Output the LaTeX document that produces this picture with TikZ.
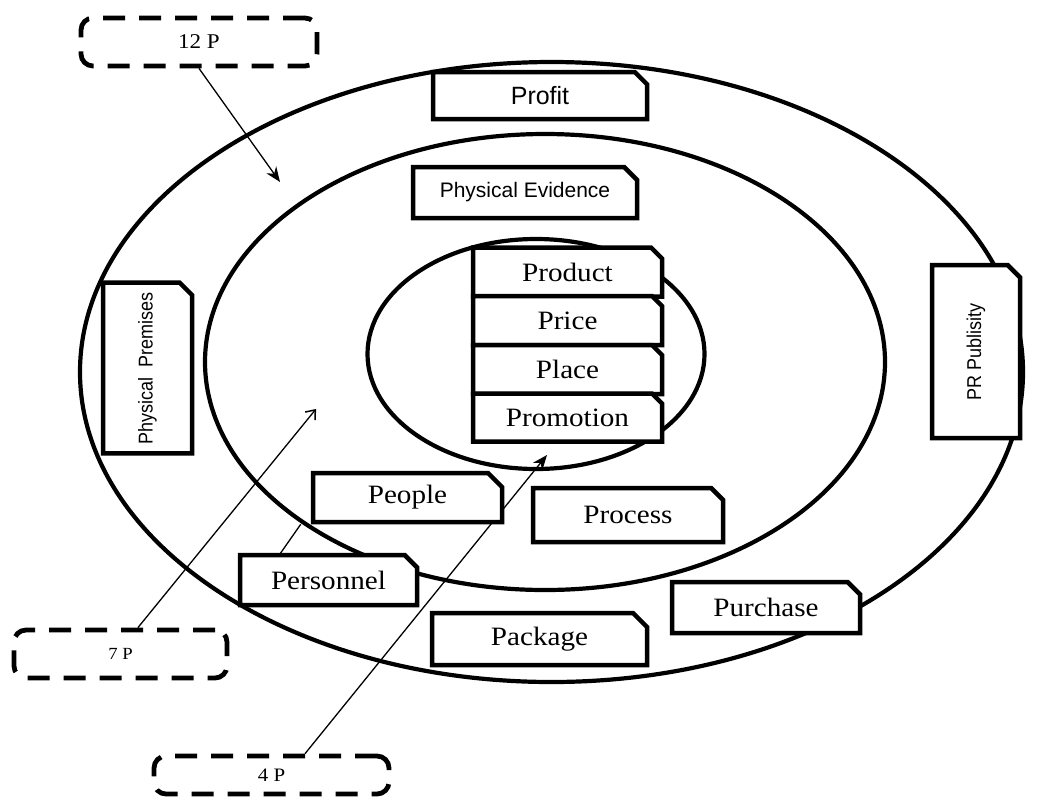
\documentclass[tikz,border=0pt]{standalone}
\usepackage{fontspec}
\setmainfont{Liberation Serif}
\newfontfamily\serifw[FakeStretch=1.1]{Liberation Serif}
\newfontfamily\sansh{Liberation Sans}
\newfontfamily\sansv[FakeStretch=0.9]{Liberation Sans}
\usetikzlibrary{shapes.misc,shapes.geometric,arrows.meta,calc}
\pgfdeclarelayer{ringlayer}
\pgfdeclarelayer{linelayer}
\pgfsetlayers{ringlayer,linelayer,main}
\begin{document}
\begin{tikzpicture}[x=1pt,y=-1pt,
  ring/.style={draw,line width=4.2pt,ellipse,inner sep=0pt,outer sep=0pt},
  cbox/.style={chamfered rectangle,chamfered rectangle corners=north east,
    chamfered rectangle xsep=11pt,draw,line width=4.5pt,fill=white,inner sep=0pt},
  vbox/.style={chamfered rectangle,chamfered rectangle corners=south east,
    chamfered rectangle xsep=11pt,draw,line width=4.5pt,fill=white,inner sep=0pt,rotate=90},
  dbox/.style={draw,line width=4.8pt,rounded corners=12pt,dash pattern=on 22pt off 14pt,inner sep=0pt},
  serbig/.style={font=\serifw\fontsize{26.5}{30}\selectfont},
  sanshz/.style={font=\sansh\fontsize{#1}{#1}\selectfont},
  sansvt/.style={font=\sansv\fontsize{20}{24}\selectfont},
  serlab/.style={font=\serifw\fontsize{#1}{#1}\selectfont},
  thinline/.style={line width=1.3pt},
  fulltip/.style={-{Stealth[length=15pt,width=12pt]}},
  opentip/.style={-{Straight Barb[length=8pt,width=13pt,line width=1.5pt]}}
]
\useasboundingbox (0,0) rectangle (1046,796);

% rings
\begin{pgfonlayer}{ringlayer}
\node[ring,minimum width=943pt,minimum height=620pt] (outer) at (551.5,372) {};
\node[ring,minimum width=680pt,minimum height=456pt] (middle) at (545,362) {};
\node[ring,minimum width=337pt,minimum height=230pt] (inner) at (536,354) {};
\end{pgfonlayer}

% dashed label boxes
\node[dbox,minimum width=236pt,minimum height=48pt,serlab=21] (tp) at (199,42) {12 P};
\node[dbox,minimum width=213pt,minimum height=48pt,serlab=17] (sp) at (120.5,654) {7 P};
\node[dbox,minimum width=235pt,minimum height=38pt,serlab=19] (fp) at (271.5,775) {4 P};

% outer ring boxes
\node[cbox,minimum width=214pt,minimum height=47pt,sanshz=25] (profit) at (540,95.5) {Profit};
\node[vbox,minimum width=170pt,minimum height=89pt,sansvt] (premises) at (147.5,368) {Physical~~Premises};
\node[vbox,minimum width=173pt,minimum height=88pt,sansvt] (pr) at (976,351.5) {PR Publisity};
\node[cbox,minimum width=177pt,minimum height=50pt,serbig] (pers) at (328.5,580) {Personnel};
\node[cbox,minimum width=188pt,minimum height=51pt,serbig] (purch) at (766,607.5) {Purchase};
\node[cbox,minimum width=215pt,minimum height=52pt,serbig] (pack) at (539.5,639) {Package};

% middle ring boxes
\node[cbox,minimum width=224pt,minimum height=51pt,sanshz=21] (evid) at (525,192.5) {Physical Evidence};
\node[cbox,minimum width=189pt,minimum height=49pt,serbig] (peop) at (407.5,497.5) {People};
\node[cbox,minimum width=190pt,minimum height=54pt,serbig] (proc) at (628,515) {Process};

% inner stack
\node[cbox,chamfered rectangle xsep=8pt,minimum width=189pt,minimum height=49pt,serbig] (prod) at (567.5,272) {Product};
\node[cbox,chamfered rectangle xsep=7pt,minimum width=189pt,minimum height=49pt,serbig] (pric) at (567.5,320.5) {Price};
\node[cbox,chamfered rectangle xsep=7pt,minimum width=189pt,minimum height=49pt,serbig] (plac) at (567.5,369.5) {Place};
\node[cbox,chamfered rectangle xsep=7pt,minimum width=189pt,minimum height=48pt,serbig] (prom) at (567.5,417.5) {Promotion};

% arrow targets
\coordinate (a12) at (280,182);
\coordinate (a7) at (316,409);
\coordinate (a4) at (547,455);

\begin{pgfonlayer}{linelayer}
\draw[thinline,fulltip] (tp.south) -- (a12);
\draw[thinline,opentip] ($(sp.north west)!0.58!(sp.north east)$) -- (a7);
\draw[thinline,fulltip] ($(fp.north west)!0.64!(fp.north east)$) -- (a4);
\draw[thinline] ($(pers.north west)!0.24!(pers.north east)$) -- ([xshift=-10pt]peop.south west);
\end{pgfonlayer}
\end{tikzpicture}
\end{document}
